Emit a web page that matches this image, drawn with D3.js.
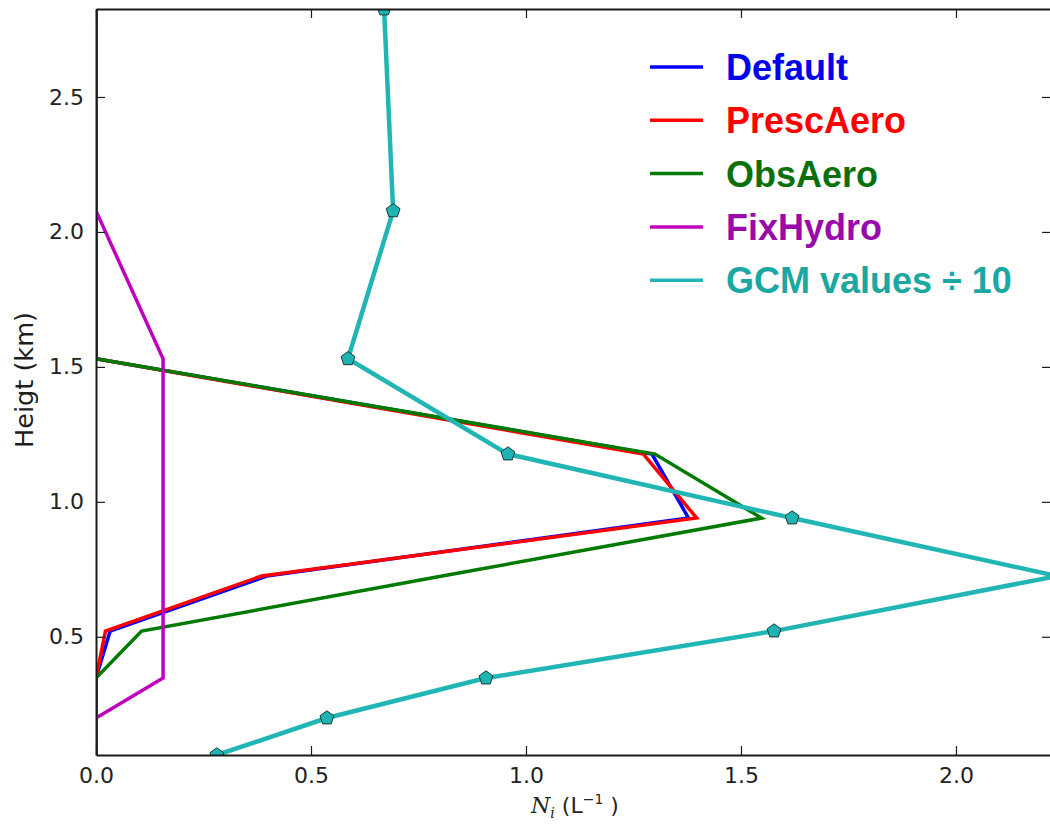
<!DOCTYPE html>
<html>
<head>
<meta charset="utf-8">
<script src="https://cdn.jsdelivr.net/npm/d3@7"></script>
<style>
body { margin: 0; background: #ffffff; }
</style>
</head>
<body>
<div id="chart"></div>
<script>
// model levels (km) shared by every profile
var heights = [0.062, 0.199, 0.347, 0.521, 0.725, 0.940, 1.177, 1.530, 2.078, 2.826]

var defaultNi = [0, 0, 0, 0.033, 0.397, 1.378, 1.293, 0, 0, 0]
var prescAeroNi = [0, 0, 0, 0.022, 0.385, 1.397, 1.273, 0, 0, 0]
var obsAeroNi = [0, 0, 0, 0.106, 0.805, 1.548, 1.300, 0, 0, 0]
var fixHydroNi = [0, 0, 0.156, 0.156, 0.156, 0.156, 0.156, 0.156, 0, 0]
var gcmNi = [0.281, 0.537, 0.907, 1.577, 2.235, 1.619, 0.958, 0.586, 0.691, 0.670]

var seriesNames = ["Default", "PrescAero", "ObsAero", "FixHydro", "GCM values \u00f7 10"]
var xTicks = [0.0, 0.5, 1.0, 1.5, 2.0]
var yTicks = [0.5, 1.0, 1.5, 2.0, 2.5]

var lineColors = ["#0000ff", "#ff0000", "#007a00", "#bf00bf", "#22b5b5"]
var textColors = ["#0000ee", "#ff0000", "#0b700b", "#9a0aaa", "#1ba8a2"]

var screen = {width: 1050, height: 829}
var plot = {left: 96, top: 9, right: 1051, bottom: 755}

var xscale = d3.scaleLinear()
    .domain([0, 2.221])
    .range([plot.left, plot.right])

var yscale = d3.scaleLinear()
    .domain([d3.min(heights), d3.max(heights)])
    .range([plot.bottom, plot.top])

var makeprofile = function (values)
{
    return values.map(function (v, i)
    {
        var point = {}
        point.x = v
        point.y = heights[i]
        return point
    })
}

// pentagon marker, like matplotlib's "p"
var pentagon = {
    draw: function (context, size)
    {
        var r = Math.sqrt(size / 2.378)
        for (var i = 0; i < 5; i++)
        {
            var a = -Math.PI / 2 + i * 2 * Math.PI / 5
            if (i == 0) context.moveTo(r * Math.cos(a), r * Math.sin(a))
            else context.lineTo(r * Math.cos(a), r * Math.sin(a))
        }
        context.closePath()
    }
}

var svg = d3.select("#chart")
    .append("svg")
    .attr("width", screen.width)
    .attr("height", screen.height)
    .style("background", "#ffffff")

svg.append("defs")
    .append("clipPath")
    .attr("id", "plotclip")
    .append("rect")
    .attr("x", plot.left)
    .attr("y", plot.top)
    .attr("width", plot.right - plot.left)
    .attr("height", plot.bottom - plot.top)

var line = d3.line()
    .x(function (p) { return xscale(p.x) })
    .y(function (p) { return yscale(p.y) })

var profiles = [defaultNi, prescAeroNi, obsAeroNi, fixHydroNi, gcmNi].map(makeprofile)

var data = svg.append("g").attr("clip-path", "url(#plotclip)")

data.selectAll("path.profile")
    .data(profiles)
    .enter()
    .append("path")
    .attr("class", "profile")
    .attr("d", line)
    .attr("fill", "none")
    .attr("stroke", function (d, i) { return lineColors[i] })
    .attr("stroke-width", function (d, i) { return i == 4 ? 4.5 : 3.5 })
    .attr("stroke-linejoin", "miter")

data.selectAll("path.marker")
    .data(profiles[4])
    .enter()
    .append("path")
    .attr("class", "marker")
    .attr("d", d3.symbol().type(pentagon).size(125))
    .attr("transform", function (p) { return "translate(" + xscale(p.x) + "," + yscale(p.y) + ")" })
    .attr("fill", "#1fb3b3")
    .attr("stroke", "#1a3a3a")
    .attr("stroke-width", 1)

// axes: ticks point inward on all four sides
var tickLen = 9
var axes = svg.append("g")

axes.append("g")
    .attr("transform", "translate(0," + plot.bottom + ")")
    .call(d3.axisBottom(xscale).tickValues(xTicks).tickFormat(d3.format(".1f")).tickSizeInner(-tickLen).tickSizeOuter(0).tickPadding(12))

axes.append("g")
    .attr("transform", "translate(0," + plot.top + ")")
    .call(d3.axisTop(xscale).tickValues(xTicks).tickFormat("").tickSizeInner(-tickLen).tickSizeOuter(0))

axes.append("g")
    .attr("transform", "translate(" + plot.left + ",0)")
    .call(d3.axisLeft(yscale).tickValues(yTicks).tickFormat(d3.format(".1f")).tickSizeInner(-tickLen).tickSizeOuter(0).tickPadding(12))

axes.append("g")
    .attr("transform", "translate(" + plot.right + ",0)")
    .call(d3.axisRight(yscale).tickValues(yTicks).tickFormat("").tickSizeInner(-tickLen).tickSizeOuter(0))

axes.selectAll(".domain")
    .attr("stroke", "#1a1a1a")
    .attr("stroke-width", 2)
axes.selectAll(".tick line")
    .attr("stroke", "#1a1a1a")
    .attr("stroke-width", 1.2)
axes.selectAll(".tick text")
    .attr("fill", "#222222")
    .style("font-family", "'DejaVu Sans', sans-serif")
    .style("font-size", "22px")

// axis titles
var xlabel = svg.append("text")
    .attr("x", 575)
    .attr("y", 813)
    .attr("text-anchor", "middle")
    .attr("fill", "#262626")
    .style("font-family", "'DejaVu Sans', sans-serif")
    .style("font-size", "22px")
xlabel.append("tspan")
    .style("font-family", "'DejaVu Serif', serif")
    .style("font-style", "italic")
    .text("N")
xlabel.append("tspan")
    .attr("dy", 5)
    .style("font-family", "'DejaVu Serif', serif")
    .style("font-style", "italic")
    .style("font-size", "14px")
    .text("i")
xlabel.append("tspan")
    .attr("dy", -5)
    .text(" (L")
xlabel.append("tspan")
    .attr("dy", -9)
    .style("font-size", "14px")
    .text("\u22121")
xlabel.append("tspan")
    .attr("dy", 9)
    .text(" )")

svg.append("text")
    .attr("transform", "translate(33,380) rotate(-90)")
    .attr("text-anchor", "middle")
    .attr("fill", "#1e1e1e")
    .attr("textLength", 136)
    .attr("lengthAdjust", "spacingAndGlyphs")
    .style("font-family", "'DejaVu Sans', sans-serif")
    .style("font-size", "25px")
    .text("Heigt (km)")

// legend, no frame
var legend = svg.append("g")
    .selectAll("g")
    .data(seriesNames)
    .enter()
    .append("g")
    .attr("transform", function (d, i) { return "translate(650," + (67 + i * 53.3) + ")" })

legend.append("line")
    .attr("x1", 0)
    .attr("x2", 53)
    .attr("y1", 0)
    .attr("y2", 0)
    .attr("stroke", function (d, i) { return lineColors[i] })
    .attr("stroke-width", 3.5)

legend.append("text")
    .attr("x", 76)
    .attr("y", 0)
    .attr("dy", "0.36em")
    .attr("fill", function (d, i) { return textColors[i] })
    .style("font-family", "'Liberation Sans', Arial, sans-serif")
    .style("font-weight", "bold")
    .style("font-size", "36px")
    .text(function (d) { return d })

console.log("drawn", profiles)
</script>
</body>
</html>
